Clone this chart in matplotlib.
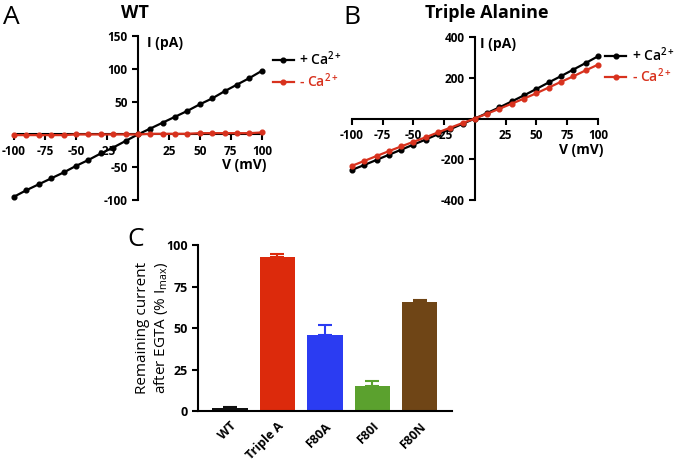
import numpy as np
import matplotlib.pyplot as plt
import matplotlib.transforms as mtransforms

plt.rcParams['font.family'] = ['Open Sans', 'DejaVu Sans']
plt.rcParams['mathtext.default'] = 'regular'
plt.rcParams['axes.unicode_minus'] = False

# IV curves, voltage steps in mV
volts = [-100, -90, -80, -70, -60, -50, -40, -30, -20, -10, 0,
         10, 20, 30, 40, 50, 60, 70, 80, 90, 100]
wt_ca = [-95, -85, -76, -67, -58, -48, -39, -29, -20, -10, 0,
         9, 18, 27, 36, 46, 55, 66, 76, 86, 97]
wt_noca = [-1, -1, -1, -1, -1, 0, 0, 0, 0, 0, 0,
           1, 1, 1, 1, 2, 2, 2, 2, 2, 3]
ta_ca = [-252, -228, -203, -178, -153, -128, -103, -77, -52, -26, 0,
         27, 55, 84, 114, 145, 177, 208, 240, 272, 305]
ta_noca = [-232, -208, -184, -160, -137, -114, -92, -68, -45, -22, 0,
           24, 48, 73, 98, 124, 152, 180, 207, 236, 264]

# remaining current after EGTA
groups = ['WT', 'Triple A', 'F80A', 'F80I', 'F80N']
remaining = [2, 93, 46, 15, 65.5]
remaining_sem = [0.6, 1.8, 5.8, 3.2, 1.2]
bar_colors = ['#111111', '#dc2a0c', '#2b3cf2', '#5ba12e', '#6f4516']

RED = '#d8321e'

fig = plt.figure(figsize=(6.77, 4.63), dpi=100)


def iv_panel(rect, yl, yticks, ca, noca, leg_anchor, ilab_x, vlab_pos):
    ax = fig.add_axes(rect)
    ax.plot(volts, ca, '-o', color='black', lw=1.6, ms=3.4, clip_on=False, zorder=3, label='+ Ca$^{2+}$')
    ax.plot(volts, noca, '-o', color=RED, lw=1.6, ms=3.4, clip_on=False, zorder=4, label='- Ca$^{2+}$')
    ax.set_xlim(-100, 100)
    ax.set_ylim(*yl)
    for s in ['top', 'right']:
        ax.spines[s].set_visible(False)
    ax.spines['left'].set_position(('data', 0))
    ax.spines['bottom'].set_position(('data', 0))
    for s in ['left', 'bottom']:
        ax.spines[s].set_linewidth(1.5)
    ax.set_xticks([-100, -75, -50, -25, 25, 50, 75, 100])
    ax.set_yticks(yticks)
    ax.tick_params(width=1.5, length=4, labelsize=8.5)
    for lab in ax.get_xticklabels() + ax.get_yticklabels():
        lab.set_fontweight('bold')
    trans = mtransforms.blended_transform_factory(ax.transData, ax.transAxes)
    ax.text(ilab_x, 1.0, 'I (pA)', transform=trans, fontsize=10, fontweight='bold',
            ha='left', va='top')
    ax.text(vlab_pos[0], vlab_pos[1], 'V (mV)', transform=ax.transAxes, fontsize=10,
            fontweight='bold', ha='right', va='center')
    ax.legend(loc='upper left', bbox_to_anchor=leg_anchor, bbox_transform=fig.transFigure,
              frameon=False, borderpad=0, borderaxespad=0, handlelength=1.5,
              handletextpad=0.4, labelspacing=0.2, labelcolor='linecolor',
              prop={'size': 10, 'weight': 'semibold'})
    return ax


axA = iv_panel([0.0207, 0.568, 0.366, 0.354], (-100, 150), [-100, -50, 50, 100, 150],
               wt_ca, wt_noca, (0.403, 0.893), 7, (1.02, 0.213))
axB = iv_panel([0.52, 0.568, 0.363, 0.352], (-400, 400), [-400, -200, 200, 400],
               ta_ca, ta_noca, (0.894, 0.903), 4, (1.024, 0.307))

fig.text(0.199, 0.972, 'WT', fontsize=13, fontweight='bold', ha='center', va='center')
fig.text(0.719, 0.972, 'Triple Alanine', fontsize=13, fontweight='bold', ha='center', va='center')
fig.text(0.005, 0.962, 'A', fontsize=19, ha='left', va='center')
fig.text(0.507, 0.962, 'B', fontsize=19, ha='left', va='center')
fig.text(0.188, 0.483, 'C', fontsize=19, ha='left', va='center')

# bar chart
axC = fig.add_axes([0.2925, 0.1123, 0.375, 0.3585])
x = np.arange(len(groups))
axC.bar(x, remaining, width=0.74, color=bar_colors, zorder=2)
for xi, v, e, c in zip(x, remaining, remaining_sem, bar_colors):
    axC.errorbar(xi, v, yerr=[[0], [e]], color=c, capsize=5, elinewidth=1.5, capthick=1.5, zorder=1)
axC.set_xlim(-0.674, 4.674)
axC.set_ylim(0, 100)
axC.set_yticks([0, 25, 50, 75, 100])
axC.set_xticks(x)
axC.set_xticklabels(groups, rotation=45, ha='right', rotation_mode='anchor')
for s in ['top', 'right']:
    axC.spines[s].set_visible(False)
for s in ['left', 'bottom']:
    axC.spines[s].set_linewidth(1.5)
axC.tick_params(axis='y', width=1.5, length=4, labelsize=9)
axC.tick_params(axis='x', length=0, labelsize=9, pad=6)
for lab in axC.get_xticklabels() + axC.get_yticklabels():
    lab.set_fontweight('bold')
axC.set_ylabel('Remaining current\nafter EGTA (% I$_{max}$)', fontsize=11, labelpad=-3,
               linespacing=1.15)

fig.savefig('out.png', dpi=100)
